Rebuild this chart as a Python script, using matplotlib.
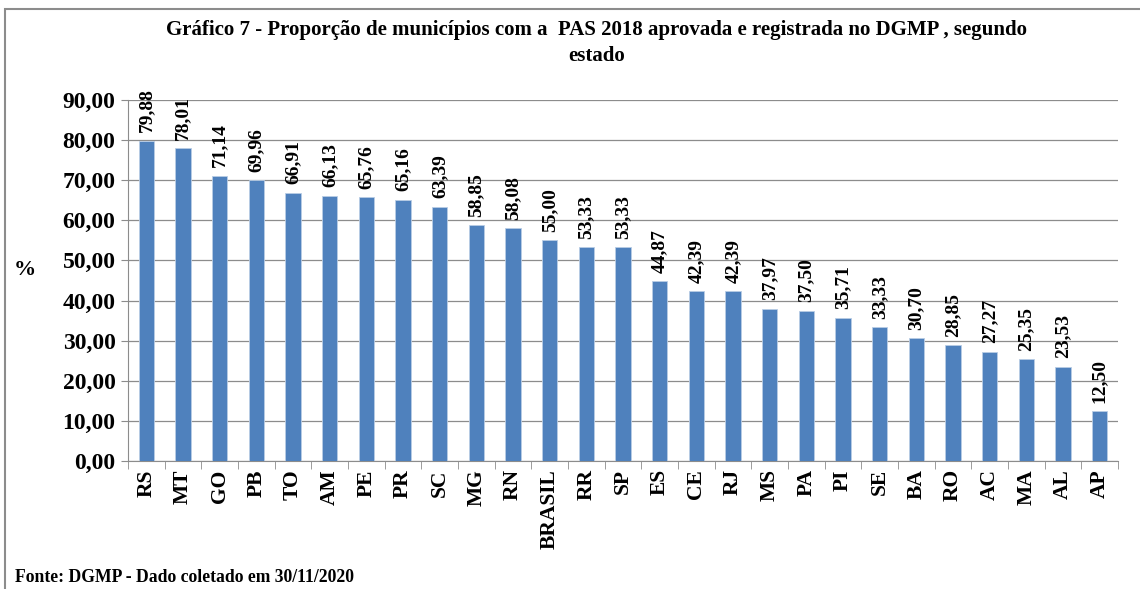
import matplotlib.pyplot as plt
from matplotlib.patches import Rectangle

estados = ['RS', 'MT', 'GO', 'PB', 'TO', 'AM', 'PE', 'PR', 'SC', 'MG', 'RN', 'BRASIL',
           'RR', 'SP', 'ES', 'CE', 'RJ', 'MS', 'PA', 'PI', 'SE', 'BA', 'RO', 'AC',
           'MA', 'AL', 'AP']
proporcao = [79.88, 78.01, 71.14, 69.96, 66.91, 66.13, 65.76, 65.16, 63.39, 58.85,
             58.08, 55.00, 53.33, 53.33, 44.87, 42.39, 42.39, 37.97, 37.50, 35.71,
             33.33, 30.70, 28.85, 27.27, 25.35, 23.53, 12.50]
yticks = [0, 10, 20, 30, 40, 50, 60, 70, 80, 90]

plt.rcParams['font.family'] = 'Liberation Serif'
plt.rcParams['font.weight'] = 'bold'

fig = plt.figure(figsize=(11.4, 5.89), dpi=100)
ax = fig.add_axes([128 / 1140, 1 - 461 / 589, 990 / 1140, 361 / 589])

x = list(range(len(estados)))
ax.bar(x, proporcao, width=0.42, color='#4F81BD', edgecolor='#B9CDE5', linewidth=0.6, zorder=3)

for xi, v in zip(x, proporcao):
    ax.annotate(f'{v:.2f}'.replace('.', ','), (xi, v), xytext=(0, 6), textcoords='offset points',
                rotation=90, ha='center', va='bottom', fontsize=14, fontweight='bold')

ax.set_xlim(-0.5, len(estados) - 0.5)
ax.set_ylim(0, 90)
ax.set_yticks(yticks)
ax.set_yticklabels([f'{t:.2f}'.replace('.', ',') for t in yticks], fontsize=17, fontweight='bold')
ax.yaxis.grid(True, color='#8C8C8C', linewidth=0.9, zorder=0)

ax.set_xticks(x)
ax.set_xticklabels(estados, rotation=90, fontsize=15.5, fontweight='bold')
ax.tick_params(axis='x', length=0, pad=6)
ax.tick_params(axis='y', length=5, color='#8C8C8C', pad=4)
ax.set_xticks([i - 0.5 for i in range(len(estados) + 1)], minor=True)
ax.tick_params(axis='x', which='minor', length=6, color='#8C8C8C')

for s in ['top', 'right']:
    ax.spines[s].set_visible(False)
for s in ['left', 'bottom']:
    ax.spines[s].set_color('#8C8C8C')

fig.text(597 / 1140, 1 - 43 / 589,
         'Gráfico 7 - Proporção de municípios com a  PAS 2018 aprovada e registrada no DGMP , segundo\nestado',
         ha='center', va='center', fontsize=15, fontweight='bold', linespacing=1.45)
fig.text(25 / 1140, 1 - 270 / 589, '%', ha='center', va='center', fontsize=16, fontweight='bold')
fig.text(15 / 1140, 1 - 577 / 589, 'Fonte: DGMP - Dado coletado em 30/11/2020',
         ha='left', va='center', fontsize=12.7, fontweight='bold')

fig.patches.append(Rectangle((5 / 1140, -0.1), 1.2, 1 - 9 / 589 + 0.1, transform=fig.transFigure,
                             fill=False, edgecolor='#8C8C8C', linewidth=1.5))

fig.savefig('out.png', dpi=100)
